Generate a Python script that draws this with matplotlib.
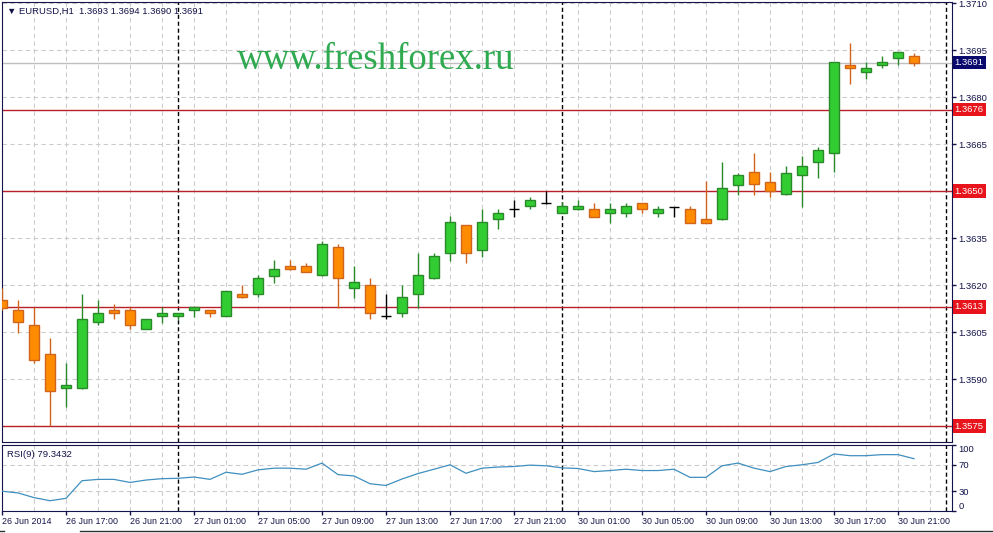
import numpy as np
import matplotlib.pyplot as plt
from matplotlib.lines import Line2D

plt.rcParams["font.family"] = ["Liberation Sans", "DejaVu Sans"]

# EURUSD H1 candles, 26 Jun 2014 13:00 .. 30 Jun 2014 22:00 (weekend skipped)
opens = [1.36152, 1.36120, 1.36072, 1.35979, 1.35870, 1.35870, 1.36081, 1.36120,
         1.36120, 1.36059, 1.36100, 1.36100, 1.36119, 1.36119, 1.36100, 1.36171,
         1.36170, 1.36230, 1.36262, 1.36260, 1.36231, 1.36320, 1.36190, 1.36199,
         1.36101, 1.36110, 1.36170, 1.36221, 1.36301, 1.36391, 1.36311, 1.36410,
         1.36442, 1.36451, 1.36461, 1.36429, 1.36442, 1.36442, 1.36429, 1.36429,
         1.36461, 1.36429, 1.36450, 1.36442, 1.36410, 1.36410, 1.36520, 1.36560,
         1.36530, 1.36490, 1.36550, 1.36592, 1.36620, 1.36903, 1.36881, 1.36901,
         1.36924, 1.36930]
highs = [1.36190, 1.36152, 1.36129, 1.36030, 1.35952, 1.36171, 1.36152, 1.36139,
         1.36129, 1.36091, 1.36129, 1.36112, 1.36131, 1.36120, 1.36180, 1.36200,
         1.36232, 1.36280, 1.36280, 1.36269, 1.36341, 1.36330, 1.36261, 1.36222,
         1.36171, 1.36199, 1.36301, 1.36301, 1.36420, 1.36392, 1.36442, 1.36442,
         1.36471, 1.36480, 1.36499, 1.36465, 1.36470, 1.36461, 1.36463, 1.36463,
         1.36462, 1.36452, 1.36450, 1.36452, 1.36532, 1.36593, 1.36559, 1.36620,
         1.36560, 1.36580, 1.36612, 1.36640, 1.36912, 1.36971, 1.36911, 1.36931,
         1.36944, 1.36940]
lows = [1.36120, 1.36048, 1.35950, 1.35750, 1.35810, 1.35868, 1.36072, 1.36091,
        1.36059, 1.36059, 1.36080, 1.36088, 1.36099, 1.36099, 1.36100, 1.36160,
        1.36161, 1.36207, 1.36249, 1.36240, 1.36230, 1.36128, 1.36160, 1.36092,
        1.36092, 1.36099, 1.36128, 1.36220, 1.36278, 1.36269, 1.36290, 1.36380,
        1.36418, 1.36442, 1.36460, 1.36429, 1.36440, 1.36418, 1.36399, 1.36418,
        1.36429, 1.36418, 1.36418, 1.36398, 1.36398, 1.36409, 1.36487, 1.36488,
        1.36480, 1.36488, 1.36450, 1.36541, 1.36560, 1.36841, 1.36858, 1.36892,
        1.36901, 1.36900]
closes = [1.36127, 1.36081, 1.35960, 1.35861, 1.35880, 1.36091, 1.36110, 1.36110,
          1.36071, 1.36091, 1.36110, 1.36110, 1.36129, 1.36110, 1.36180, 1.36161,
          1.36222, 1.36250, 1.36250, 1.36241, 1.36330, 1.36221, 1.36209, 1.36110,
          1.36101, 1.36161, 1.36231, 1.36292, 1.36400, 1.36301, 1.36400, 1.36429,
          1.36442, 1.36470, 1.36461, 1.36451, 1.36451, 1.36418, 1.36442, 1.36452,
          1.36442, 1.36442, 1.36450, 1.36399, 1.36399, 1.36509, 1.36550, 1.36522,
          1.36499, 1.36559, 1.36580, 1.36631, 1.36911, 1.36892, 1.36892, 1.36912,
          1.36943, 1.36910]

rsi = [30.0, 27.4, 20.3, 15.6, 19.2, 45.9, 47.9, 47.9, 43.3, 46.9, 49.0, 49.5,
       51.5, 47.9, 58.7, 55.6, 62.3, 64.9, 64.9, 63.3, 72.6, 55.1, 53.1, 41.3,
       38.7, 48.5, 56.7, 63.3, 70.0, 57.2, 64.9, 66.6, 67.4, 69.5, 68.5, 65.4,
       64.4, 59.7, 61.3, 63.3, 61.3, 61.3, 63.3, 51.0, 51.0, 68.5, 72.6, 64.9,
       59.7, 67.4, 70.0, 73.6, 86.4, 83.8, 83.8, 85.4, 85.4, 79.3]

levels = [1.3676, 1.3650, 1.3613, 1.3575]
bid = 1.3691
price_ticks = [1.3575, 1.3590, 1.3605, 1.3620, 1.3635, 1.3650, 1.3665, 1.3680,
               1.3695, 1.3710]
time_labels = ["26 Jun 2014", "26 Jun 17:00", "26 Jun 21:00", "27 Jun 01:00",
               "27 Jun 05:00", "27 Jun 09:00", "27 Jun 13:00", "27 Jun 17:00",
               "27 Jun 21:00", "30 Jun 01:00", "30 Jun 05:00", "30 Jun 09:00",
               "30 Jun 13:00", "30 Jun 17:00", "30 Jun 21:00"]
day_breaks = [11, 35, 59]   # bar index where a new day starts

W, H = 993, 533
navy = "#14144a"
grid_c = "#cccccc"
bull, bull_edge = "#32cd32", "#2a8a2a"
bear, bear_edge = "#ff8c00", "#d0641a"

fig = plt.figure(figsize=(W / 100, H / 100), dpi=100)
ax = fig.add_axes([2 / W, 1 - 442 / H, 950 / W, 440 / H])
ax_rsi = fig.add_axes([2 / W, 1 - 511 / H, 950 / W, 66 / H])

x = np.arange(len(opens))
o, h, l, c = map(np.array, (opens, highs, lows, closes))
up = c > o
dn = c < o
dj = c == o

# grid
for a in (ax, ax_rsi):
    for gx in range(2, 60, 2):
        a.axvline(gx, color=grid_c, lw=0.8, ls=(0, (4, 3)), zorder=0)
    for d in day_breaks:
        a.axvline(d, color="black", lw=1, ls=(0, (3, 2)), zorder=1)
    a.set_xlim(0, 59.375)
    for s in a.spines.values():
        s.set_color(navy)
for p in price_ticks:
    ax.axhline(p, color=grid_c, lw=0.8, ls=(0, (4, 3)), zorder=0)

# support / resistance and bid
for lv in levels:
    ax.axhline(lv, color="#b8202a", lw=1, zorder=2)
    ax.annotate(f"{lv:.4f}", xy=(1, lv), xycoords=("axes fraction", "data"),
                xytext=(2, 0), textcoords="offset points", ha="left", va="center",
                fontsize=6.8, color="white", annotation_clip=False, zorder=6,
                bbox=dict(boxstyle="square,pad=0.22", fc="#e8141b", ec="none"))
ax.axhline(bid, color="#c0c0c0", lw=1, zorder=1)
ax.annotate(f"{bid:.4f}", xy=(1, bid), xycoords=("axes fraction", "data"),
            xytext=(2, 0), textcoords="offset points", ha="left", va="center",
            fontsize=6.8, color="white", annotation_clip=False, zorder=6,
            bbox=dict(boxstyle="square,pad=0.22", fc="#0a0a6e", ec="none"))

# candles
bw = 0.64
ax.vlines(x[up], l[up], h[up], color=bull_edge, lw=1, zorder=3)
ax.bar(x[up], (c - o)[up], bottom=o[up], width=bw, color=bull,
       edgecolor=bull_edge, lw=1, zorder=4)
ax.vlines(x[dn], l[dn], h[dn], color=bear_edge, lw=1, zorder=3)
ax.bar(x[dn], (o - c)[dn], bottom=c[dn], width=bw, color=bear,
       edgecolor=bear_edge, lw=1, zorder=4)
ax.vlines(x[dj], l[dj], h[dj], color="black", lw=1, zorder=3)
ax.hlines(c[dj], x[dj] - bw / 2, x[dj] + bw / 2, color="black", lw=1, zorder=4)

ax.set_ylim(1.35699, 1.371033)
ax.yaxis.tick_right()
ax.set_yticks(price_ticks)
# labels that sit under a level box are left blank
ax.set_yticklabels(["" if p in levels else f"{p:.4f}" for p in price_ticks])
ax.tick_params(axis="y", direction="out", length=3, width=1, color=navy,
               labelsize=6.8, labelcolor=navy, pad=1.5)
ax.tick_params(axis="x", bottom=False, labelbottom=False)

ax.text(0.005, 0.989, "\u25bc EURUSD,H1  1.3693 1.3694 1.3690 1.3691",
        transform=ax.transAxes, fontsize=6.8, color=navy, va="top", ha="left")
fig.text(237 / W, 1 - 69 / H, "www.freshforex.ru", fontsize=26.5,
         family="Liberation Serif", color="#2faa50", va="baseline", ha="left")

# RSI panel
ax_rsi.plot(x, rsi, color="#3f8fbf", lw=0.9, zorder=3)
for r in (70, 30):
    ax_rsi.axhline(r, color=grid_c, lw=0.8, ls=(0, (4, 3)), zorder=0)
ax_rsi.set_ylim(0, 100)
ax_rsi.yaxis.tick_right()
ax_rsi.set_yticks([0, 30, 70, 100])
ax_rsi.set_yticklabels(["0", "30", "70", "100"])
ax_rsi.tick_params(axis="y", direction="out", length=3, width=1, color=navy,
                   labelsize=6.8, labelcolor=navy, pad=1.5)
ylabs = ax_rsi.get_yticklabels()
ylabs[0].set_va("bottom")
ylabs[3].set_va("top")
ax_rsi.set_xticks(range(0, 57, 4))
ax_rsi.set_xticklabels(time_labels, ha="left")
ax_rsi.tick_params(axis="x", direction="out", length=3, width=1, color=navy,
                   labelsize=6.4, labelcolor=navy, pad=1.5)
ax_rsi.text(0.005, 0.93, "RSI(9) 79.3432", transform=ax_rsi.transAxes,
            fontsize=6.8, color=navy, va="top", ha="left")

# tab bar edge at the bottom
fig.add_artist(Line2D([80 / W, 1], [1 - 531 / H] * 2, color="#303030", lw=1))
fig.add_artist(Line2D([0, 4 / W], [1 - 531 / H] * 2, color="#303030", lw=1))

fig.savefig("out.png", dpi=100)
